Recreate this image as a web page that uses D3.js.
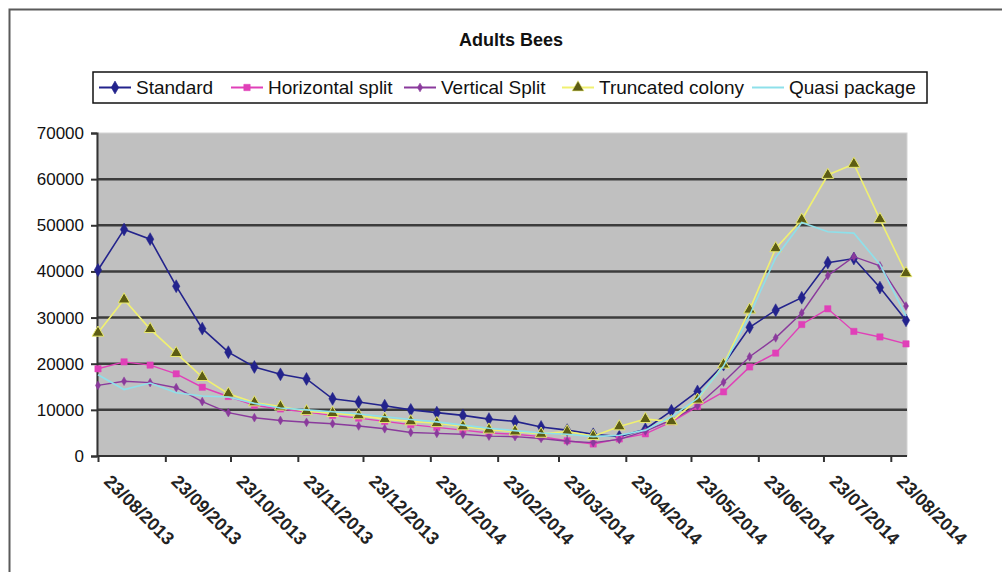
<!DOCTYPE html>
<html>
<head>
<meta charset="utf-8">
<script src="https://cdn.jsdelivr.net/npm/d3@7"></script>
<style>
  html, body { margin: 0; padding: 0; background: #fff; }
  svg { display: block; font-family: "Liberation Sans", Arial, sans-serif; }
</style>
</head>
<body>
<svg id="chart" width="1002" height="572"></svg>
<script>
// ---------------- data ----------------
const dates = ["2013-08-23","2013-09-04","2013-09-16","2013-09-28","2013-10-10","2013-10-22",
  "2013-11-03","2013-11-15","2013-11-27","2013-12-09","2013-12-21","2014-01-02","2014-01-14",
  "2014-01-26","2014-02-07","2014-02-19","2014-03-03","2014-03-15","2014-03-27","2014-04-08",
  "2014-04-20","2014-05-02","2014-05-14","2014-05-26","2014-06-07","2014-06-19","2014-07-01",
  "2014-07-13","2014-07-25","2014-08-06","2014-08-18","2014-08-30"];

const standard   = [40300,49100,47000,36800,27600,22500,19300,17700,16700,12400,11700,10900,10000,9400,8800,8000,7500,6300,5600,4700,4200,5800,9800,14000,19800,27900,31600,34300,41900,42800,36500,29400];
const horizontal = [18900,20400,19700,17800,14900,12900,11000,10200,9500,8800,8200,7500,6800,6200,5600,5000,4700,4200,3300,2600,3700,4800,7400,10700,13900,19300,22300,28500,31900,27000,25800,24300];
const vertical   = [15300,16200,15900,14800,11800,9400,8300,7700,7300,7000,6500,5900,5100,4900,4700,4300,4200,3800,3200,2900,3600,5400,7800,10900,16000,21500,25600,31000,39100,43200,41200,32500];
const truncated  = [26700,33900,27500,22300,17100,13500,11600,10700,9700,9300,8800,8000,7500,7100,6400,5700,5300,4800,5300,4300,6400,8000,7500,12200,19800,31700,45000,51200,60900,63300,51300,39600];
const quasi      = [17600,14400,15800,13700,13000,12800,11400,10400,10000,9600,9100,8500,7900,7400,6700,6000,5500,5000,4700,4200,4500,5600,8500,12500,19500,30500,43000,50600,48600,48300,41500,30300];

const seriesNames = ["Standard","Horizontal split","Vertical Split","Truncated colony","Quasi package"];
const yTicks = [0,10000,20000,30000,40000,50000,60000,70000];
const xTickLabels = ["23/08/2013","23/09/2013","23/10/2013","23/11/2013","23/12/2013","23/01/2014",
  "23/02/2014","23/03/2014","23/04/2014","23/05/2014","23/06/2014","23/07/2014","23/08/2014"];
const title = "Adults Bees";

// ---------------- setup ----------------
const parseISO = d3.utcParse("%Y-%m-%d");
const parseDMY = d3.utcParse("%d/%m/%Y");
const dateObjs = dates.map(parseISO);
const tickDates = xTickLabels.map(parseDMY);

const svg = d3.select("#chart");
const P = { left: 97, right: 907, top: 133, bottom: 456 };

const x = d3.scaleUtc().domain([dateObjs[0], dateObjs[dateObjs.length - 1]]).range([P.left + 1, P.right - 1]);
const y = d3.scaleLinear().domain([0, 70000]).range([P.bottom, P.top]);

// outer frame
svg.append("rect").attr("x", 9.5).attr("y", 9.5).attr("width", 1100).attr("height", 700)
  .attr("fill", "#fff").attr("stroke", "#5a5a5a").attr("stroke-width", 2);

// title
svg.append("text").attr("x", 511).attr("y", 46).attr("text-anchor", "middle")
  .attr("font-size", 18).attr("font-weight", "bold").attr("fill", "#111").text(title);

// plot background
svg.append("rect").attr("x", P.left).attr("y", P.top)
  .attr("width", P.right - P.left).attr("height", P.bottom - P.top)
  .attr("fill", "#c0c0c0").attr("stroke", "#d4d4d4").attr("stroke-width", 1);

// gridlines
svg.append("g").selectAll("line").data(yTicks.filter(v => v > 0 && v < 70000)).join("line")
  .attr("x1", P.left).attr("x2", P.right)
  .attr("y1", d => y(d)).attr("y2", d => y(d))
  .attr("stroke", "#3c3c3c").attr("stroke-width", 2.5);

// y axis
const yAxis = svg.append("g").attr("transform", `translate(${P.left},0)`)
  .call(d3.axisLeft(y).tickValues(yTicks).tickSize(6).tickPadding(7).tickFormat(d => String(d)));
yAxis.select(".domain").attr("stroke", "#333").attr("stroke-width", 2);
yAxis.selectAll(".tick line").attr("stroke", "#333").attr("stroke-width", 2);
yAxis.selectAll("text").attr("font-size", 17).attr("fill", "#111")
  .attr("font-family", "'Liberation Sans', Arial, sans-serif");

// x axis
const xAxis = svg.append("g").attr("transform", `translate(0,${P.bottom})`)
  .call(d3.axisBottom(x).tickValues(tickDates).tickSize(6).tickFormat(d3.utcFormat("%d/%m/%Y")));
xAxis.select(".domain").attr("stroke", "#333").attr("stroke-width", 2)
  .attr("d", `M${P.left},0H${P.right}`);
xAxis.selectAll(".tick line").attr("stroke", "#333").attr("stroke-width", 2);
xAxis.selectAll("text")
  .attr("x", 0).attr("y", 0).attr("dy", "0.35em")
  .attr("text-anchor", "start")
  .attr("transform", "translate(9,22) rotate(45)")
  .attr("font-size", 18).attr("font-weight", "bold").attr("fill", "#222")
  .attr("font-family", "'Liberation Sans', Arial, sans-serif");

// ---------------- series ----------------
const seriesValues = [standard, horizontal, vertical, truncated, quasi];
const styles = [
  { color: "#23238c", marker: "diamond", size: 48, fill: "#23238c", stroke: "#23238c", width: 1.6 },
  { color: "#e040b8", marker: "square", size: 40, fill: "#e040b8", stroke: "#e040b8", width: 1.4 },
  { color: "#8a3a9c", marker: "diamond", size: 22, fill: "#8a3a9c", stroke: "#8a3a9c", width: 1.4 },
  { color: "#f0f070", marker: "triangle", size: 60, fill: "#5c5c14", stroke: "#e8e870", width: 1.6 },
  { color: "#8ee0ea", marker: null, size: 0, fill: "#8ee0ea", stroke: "#8ee0ea", width: 1.6 }
];
const symType = { diamond: d3.symbolDiamond, square: d3.symbolSquare, triangle: d3.symbolTriangle };

const line = d3.line().x(d => x(d.date)).y(d => y(d.value));

seriesValues.forEach((vals, i) => {
  const st = styles[i];
  const pts = vals.map((v, j) => ({ date: dateObjs[j], value: v }));
  const g = svg.append("g");
  g.append("path").datum(pts).attr("d", line)
    .attr("fill", "none").attr("stroke", st.color).attr("stroke-width", st.width);
  if (st.marker) {
    g.selectAll("path.m").data(pts).join("path").attr("class", "m")
      .attr("transform", d => `translate(${x(d.date)},${y(d.value)})`)
      .attr("d", d3.symbol().type(symType[st.marker]).size(st.size))
      .attr("fill", st.fill).attr("stroke", st.stroke).attr("stroke-width", st.marker === "triangle" ? 1 : 0.5);
  }
});

// ---------------- legend ----------------
const legend = svg.append("g");
legend.append("rect").attr("x", 93).attr("y", 72).attr("width", 834).attr("height", 31)
  .attr("fill", "#fff").attr("stroke", "#111").attr("stroke-width", 1.5);
const legendX = [99, 231, 404, 562, 752];
seriesNames.forEach((name, i) => {
  const st = styles[i];
  const sx = legendX[i], cy = 87.5;
  legend.append("line").attr("x1", sx).attr("x2", sx + 32).attr("y1", cy).attr("y2", cy)
    .attr("stroke", st.color).attr("stroke-width", 2);
  if (st.marker) {
    legend.append("path").attr("transform", `translate(${sx + 16},${cy})`)
      .attr("d", d3.symbol().type(symType[st.marker]).size(st.size))
      .attr("fill", st.fill).attr("stroke", st.stroke).attr("stroke-width", 0.6);
  }
  legend.append("text").attr("x", sx + 37).attr("y", cy + 6.5)
    .attr("font-size", 19).attr("fill", "#111").text(name);
});
</script>
</body>
</html>
